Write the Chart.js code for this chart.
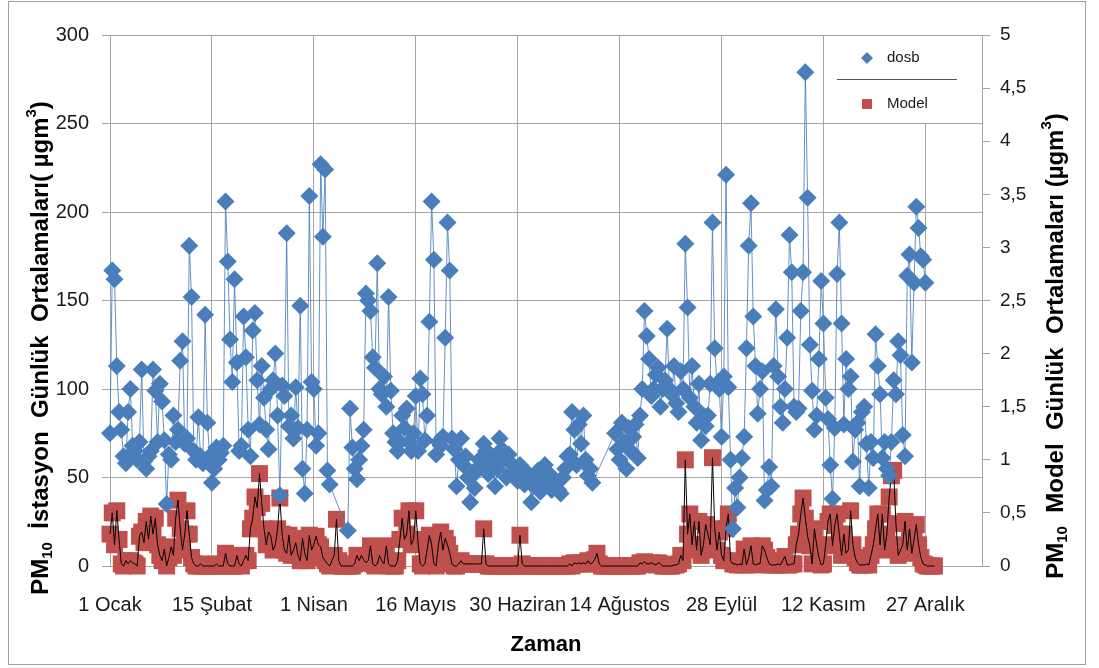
<!DOCTYPE html>
<html>
<head>
<meta charset="utf-8">
<script src="https://cdn.jsdelivr.net/npm/chart.js@4.4.1/dist/chart.umd.min.js"></script>
<style>
  html, body { margin: 0; padding: 0; background: #fff; }
  #wrap { width: 1099px; height: 668px; }
</style>
</head>
<body>
<div id="wrap"><canvas id="pmChart" width="1099" height="668"></canvas></div>
<script>
// Time axis labels, one every 45 days starting 1 Ocak
const dateLabels = ['1 Ocak', '15 Şubat', '1 Nisan', '16 Mayıs', '30 Haziran', '14 Ağustos', '28 Eylül', '12 Kasım', '27 Aralık'];
const labelStep = 45;

// Station daily means (left axis, µg/m3), null = no measurement
const dosbValues = [
  75, 167, 162, 113, 87, 77, 62, 58, 87, 100,
  68, 65, 60, 70, 111, 59, 55, 62, 65, 111,
  99, 70, 103, 93, 71, 35, 63, 60, 85, 70,
  77, 116, 127, 69, 72, 181, 152, 65, 60, 84,
  62, 58, 142, 81, 62, 47, 55, 67, 60, 64,
  68, 206, 172, 128, 104, 162, 115, 65, 68, 141,
  118, 77, 62, 133, 143, 105, 80, 113, 95, 77,
  66, 100, 105, 120, 85, 40, 102, 96, 188, 79,
  85, 72, 101, 78, 147, 55, 41, 77, 209, 104,
  100, 68, 75, 227, 186, 224, 54, 46, null, null,
  null, null, null, null, null, 20, 89, 67, 55, 49,
  60, 68, 77, 154, 150, 144, 118, 112, 171, 100,
  97, 107, 90, 152, 99, 75, 70, 65, 70, 85,
  78, 89, 70, 65, 75, 96, 65, 106, 97, 71,
  85, 138, 206, 173, 63, 70, 68, 73, 129, 194,
  167, 72, 66, 45, 60, 72, 57, 62, 50, 36,
  51, 44, 55, 60, 57, 69, 65, 52, 63, 58,
  45, 55, 72, 66, 61, 50, 63, 58, 52, 55,
  48, 57, 51, 46, 53, 49, 36, 45, 49, 54,
  42, 55, 57, 48, 52, 43, 48, 47, 43, 41,
  50, 55, 62, 63, 87, 77, 57, 80, 69, 85,
  60, 51, 55, 47, null, null, null, null, null, null,
  null, null, null, 75, 66, 60, 81, 70, 55, 78,
  65, 73, 80, 61, 85, 100, 144, 130, 117, 96,
  100, 108, 112, 90, 100, 105, 134, 100, 97, 113,
  92, 87, 110, 100, 182, 146, 95, 113, 90, 81,
  103, 71, 85, 79, 85, 103, 194, 123, 103, 100,
  73, 107, 221, 101, 60, 21, 44, 33, 50, 61,
  73, 123, 181, 205, 141, 113, 86, 100, 110, 37,
  43, 56, 45, 113, 145, 107, 90, 81, 100, 129,
  187, 166, 90, 87, 89, 144, 166, 279, 208, 125,
  99, 77, 85, 117, 161, 137, 95, 83, 57, 38,
  78, 165, 194, 137, 80, 117, 100, 107, 59, 77,
  81, 45, 87, 90, 69, 44, 70, 61, 131, 113,
  97, 61, 70, 55, 51, 70, 105, 97, 127, 119,
  74, 62, 164, 176, 115, 160, 203, 191, 175, 173, 160
];

// Model daily means (right axis, µg/m3)
const modelValues = [
  0.3, 0.5, 0.2, 0.52, 0.25, 0.02, 0, 0.05, 0.02, 0.05,
  0.03, 0.02, 0, 0.28, 0.32, 0.22, 0.42, 0.25, 0.47, 0.3,
  0.45, 0.2, 0.1, 0.05, 0.16, 0, 0.08, 0.18, 0.1, 0.45,
  0.62, 0.35, 0.15, 0.3, 0.52, 0.3, 0.08, 0.02, 0, 0,
  0.02, 0, 0, 0, 0, 0, 0, 0.02, 0, 0,
  0, 0.12, 0.02, 0, 0, 0, 0.1, 0.02, 0, 0.05,
  0.1, 0.05, 0.35, 0.45, 0.65, 0.55, 0.87, 0.59, 0.35, 0.2,
  0.32, 0.28, 0.15, 0.2, 0.35, 0.64, 0.3, 0.15, 0.12, 0.29,
  0.1, 0.15, 0.22, 0.1, 0.05, 0.26, 0.12, 0.05, 0.29, 0.15,
  0.2, 0.28, 0.2, 0.18, 0.08, 0.05, 0.02, 0, 0.05, 0.1,
  0.44, 0.05, 0, 0, 0, 0, 0, 0, 0.02, 0.1,
  0.05, 0.1, 0.06, 0.03, 0.05, 0.19, 0.02, 0, 0.02, 0.1,
  0.05, 0.02, 0.19, 0.02, 0, 0, 0, 0.05, 0.25, 0.45,
  0.25, 0.3, 0.52, 0.2, 0.25, 0.52, 0.22, 0.02, 0, 0.02,
  0.15, 0.29, 0.2, 0.02, 0, 0.2, 0.32, 0.15, 0.26, 0.2,
  0.12, 0.02, 0, 0, 0.02, 0.05, 0.02, 0.02, 0.02, 0.02,
  0.02, 0.02, 0.02, 0.02, 0.02, 0.35, 0.02, 0, 0, 0,
  0, 0, 0, 0, 0, 0, 0, 0, 0, 0,
  0, 0.29, 0.02, 0, 0, 0, 0, 0, 0, 0,
  0, 0, 0, 0, 0, 0, 0, 0, 0, 0,
  0, 0, 0, 0.02, 0, 0.03, 0.02, 0.03, 0.02, 0.03,
  0.02, 0.05, 0.02, 0.03, 0.06, 0.12, 0.02, 0, 0, 0,
  0, 0, 0, 0, 0, 0, 0, 0, 0, 0,
  0, 0, 0, 0, 0.03, 0.02, 0.04, 0.02, 0.02, 0.03,
  0.02, 0.01, 0.03, 0.02, 0, 0, 0, 0, 0, 0.01,
  0.01, 0.02, 0.1, 0.05, 1.0, 0.3, 0.49, 0.2, 0.42, 0.15,
  0.42, 0.1, 0.2, 0.39, 0.3, 0.2, 1.02, 0.35, 0.15, 0.32,
  0.1, 0.05, 0.35, 0.49, 0.05, 0.02, 0.02, 0.01, 0.02, 0.01,
  0.16, 0.01, 0.08, 0.19, 0.02, 0.01, 0.02, 0.02, 0.19, 0.15,
  0.08, 0.02, 0.01, 0.01, 0.01, 0.02, 0.01, 0.05, 0.09, 0.01,
  0.01, 0.02, 0.02, 0.2, 0.3, 0.49, 0.64, 0.45, 0.28, 0.19,
  0.02, 0.35, 0.2, 0.08, 0.01, 0.02, 0.2, 0.42, 0.49, 0.19,
  0.38, 0.49, 0.3, 0.1, 0.3, 0.12, 0.15, 0.52, 0.2, 0.08,
  0.03, 0.01, 0.01, 0.01, 0.02, 0.01, 0.1, 0.2, 0.35, 0.49,
  0.2, 0.49, 0.15, 0.3, 0.65, 0.85, 0.9, 0.4, 0.1, 0.15,
  0.2, 0.42, 0.15, 0.35, 0.12, 0.25, 0.39, 0.2, 0.08, 0.02,
  0.01, 0, 0, 0, 0
];

const legendNames = ['dosb', '', 'Model'];

const FONT = "'Liberation Sans', Arial, sans-serif";
const BLUE = '#4a7ebb';
const RED = '#c0504d';
const GRID = '#a6a6a6';
const TEXT = '#1a1a1a';

// [text, kind]: kind -1 subscript, 1 superscript, 0 normal
const leftTitle = [['PM', 0], ['10', -1], ['  İstasyon  Günlük  Ortalamaları( µgm', 0], ['3', 1], [')', 0]];
const rightTitle = [['PM', 0], ['10', -1], ['  Model  Günlük  Ortalamaları (µgm', 0], ['3', 1], [')', 0]];

function toPoints(values) {
    return values.map((v, i) => ({ x: i, y: v }));
}

function drawVerticalTitle(ctx, runs, cx, cy, size) {
    const fontFor = k => 'bold ' + (k ? Math.round(size * 0.62) : size) + 'px ' + FONT;
    ctx.save();
    ctx.translate(cx, cy);
    ctx.rotate(-Math.PI / 2);
    ctx.textBaseline = 'middle';
    ctx.textAlign = 'left';
    ctx.fillStyle = '#000';
    let total = 0;
    runs.forEach(([t, k]) => { ctx.font = fontFor(k); total += ctx.measureText(t).width; });
    let x = -total / 2;
    runs.forEach(([t, k]) => {
        ctx.font = fontFor(k);
        const dy = k < 0 ? size * 0.3 : (k > 0 ? -size * 0.38 : 0);
        ctx.fillText(t, x, dy);
        x += ctx.measureText(t).width;
    });
    ctx.restore();
}

const decorPlugin = {
    id: 'decor',
    beforeDraw(chart) {
        const ctx = chart.ctx;
        ctx.save();
        ctx.fillStyle = '#fff';
        ctx.fillRect(0, 0, chart.width, chart.height);
        ctx.strokeStyle = '#a0a0a0';
        ctx.lineWidth = 1;
        ctx.strokeRect(8.5, 1.5, 1077, 663);
        ctx.restore();
    },
    afterDraw(chart) {
        const ctx = chart.ctx;
        const area = chart.chartArea;

        drawVerticalTitle(ctx, leftTitle, 41, 348, 24);
        drawVerticalTitle(ctx, rightTitle, 1056, 346, 24);

        // legend box in the top right corner of the plot
        const w = 159, h = 88;
        const lx = area.right - w, ly = area.top;
        ctx.save();
        ctx.fillStyle = '#fff';
        ctx.fillRect(lx, ly, w, h);
        ctx.strokeStyle = GRID;
        ctx.lineWidth = 1;
        ctx.strokeRect(lx + 0.5, ly + 0.5, w, h);

        ctx.font = '15px ' + FONT;
        ctx.fillStyle = TEXT;
        ctx.textBaseline = 'middle';

        // dosb
        const mx = lx + 44;
        ctx.fillStyle = BLUE;
        ctx.beginPath();
        ctx.moveTo(mx - 6, ly + 23);
        ctx.lineTo(mx, ly + 17);
        ctx.lineTo(mx + 6, ly + 23);
        ctx.lineTo(mx, ly + 29);
        ctx.closePath();
        ctx.fill();
        ctx.fillStyle = TEXT;
        ctx.fillText(legendNames[0], lx + 64, ly + 23);

        // model line
        ctx.strokeStyle = '#555';
        ctx.beginPath();
        ctx.moveTo(lx + 14, ly + 44.5);
        ctx.lineTo(lx + 134, ly + 44.5);
        ctx.stroke();
        if (legendNames[1]) ctx.fillText(legendNames[1], lx + 64, ly + 44);

        // Model squares
        ctx.fillStyle = RED;
        ctx.fillRect(mx - 5, ly + 64, 10, 10);
        ctx.fillStyle = TEXT;
        ctx.fillText(legendNames[2], lx + 64, ly + 69);
        ctx.restore();
    }
};

Chart.defaults.font.family = FONT;
Chart.defaults.color = TEXT;

new Chart(document.getElementById('pmChart'), {
    type: 'line',
    data: {
        datasets: [
            {
                label: 'dosb',
                data: toPoints(dosbValues),
                yAxisID: 'y',
                order: 0,
                spanGaps: true,
                borderColor: 'rgba(74, 126, 187, 0.85)',
                borderWidth: 1,
                pointStyle: 'rectRot',
                pointRadius: 9,
                pointBorderWidth: 0,
                pointBackgroundColor: BLUE,
                pointBorderColor: BLUE,
                clip: false
            },
            {
                label: '',
                data: toPoints(modelValues),
                yAxisID: 'y2',
                order: 1,
                borderColor: '#000',
                borderWidth: 1,
                pointRadius: 0,
                clip: false
            },
            {
                label: 'Model',
                data: toPoints(modelValues),
                yAxisID: 'y2',
                order: 2,
                showLine: false,
                pointStyle: 'rect',
                pointRadius: 12,
                pointBorderWidth: 0,
                pointBackgroundColor: RED,
                pointBorderColor: RED,
                clip: false
            }
        ]
    },
    options: {
        responsive: false,
        animation: false,
        devicePixelRatio: 1,
        layout: { padding: { top: 35, right: 0, bottom: 0, left: 0 } },
        plugins: {
            legend: { display: false },
            tooltip: { enabled: false }
        },
        scales: {
            x: {
                type: 'linear',
                min: 0,
                max: 385,
                afterBuildTicks: scale => {
                    scale.ticks = dateLabels.map((_, i) => ({ value: i * labelStep }));
                },
                afterFit: scale => { scale.height = 102; },
                grid: { color: GRID, drawTicks: false },
                border: { color: GRID },
                ticks: {
                    autoSkip: false,
                    maxRotation: 0,
                    padding: 27,
                    font: { size: 20 },
                    color: TEXT,
                    callback: v => dateLabels[Math.round(v / labelStep)]
                },
                title: {
                    display: true,
                    text: 'Zaman',
                    color: '#000',
                    font: { size: 22, weight: 'bold' },
                    padding: { top: 0, bottom: 10 }
                }
            },
            y: {
                position: 'left',
                min: 0,
                max: 300,
                afterFit: scale => { scale.width = 110; },
                grid: { color: GRID, tickLength: 8 },
                border: { color: GRID },
                ticks: {
                    stepSize: 50,
                    padding: 13,
                    font: { size: 20 },
                    color: TEXT
                }
            },
            y2: {
                position: 'right',
                min: 0,
                max: 5,
                afterFit: scale => { scale.width = 117; },
                grid: { drawOnChartArea: false, color: GRID, tickLength: 8 },
                border: { color: GRID },
                ticks: {
                    stepSize: 0.5,
                    padding: 10,
                    font: { size: 19 },
                    color: TEXT,
                    callback: v => String(v).replace('.', ',')
                }
            }
        }
    },
    plugins: [decorPlugin]
});
</script>
</body>
</html>
